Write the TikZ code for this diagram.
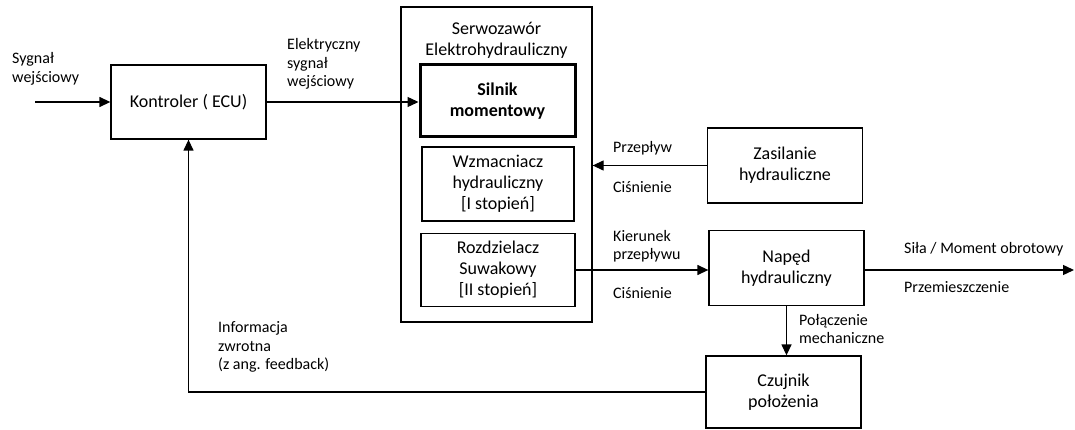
\documentclass[tikz,border=0pt]{standalone}
\usepackage{fontspec}
\setmainfont{Carlito}
\usetikzlibrary{arrows.meta}
\tikzstyle{block}=[draw, line width=1.3pt, inner sep=0, align=center, minimum width=155pt, minimum height=74pt, font=\fontsize{18}{21}\selectfont]
\tikzstyle{heavy block}=[block, line width=3pt, font=\fontsize{18}{21}\selectfont\bfseries]
\tikzstyle{caption}=[anchor=west, inner sep=0, align=left, font=\fontsize{16}{18.5}\selectfont]
\tikzstyle{signal}=[line width=1.3pt, -{Triangle[length=11pt,width=10pt]}]

\begin{document}
\begin{tikzpicture}[x=1pt, y=-1pt]
      \useasboundingbox (0, 0) rectangle (1075, 430);

      \coordinate (in) at (35, 102);
      \coordinate (out) at (1074, 270);

      \node[block] (kontroler) at (188.5, 102) {Kontroler ( ECU)};

      % serwozawor with its three stages
      \node[block, minimum width=191pt, minimum height=315pt] (serwo) at (496.5, 164.5) {};
      \node[block, draw=none] (serwo title) at (496.5, 40) {Serwozawór\\Elektrohydrauliczny};
      \node[heavy block, minimum height=72pt] (silnik) at (497.5, 101) {Silnik\\momentowy};
      \node[block, minimum width=152pt] (wzmacniacz) at (498, 184) {Wzmacniacz\\hydrauliczny\\{[I stopień]}};
      \node[block, minimum width=154pt, minimum height=73pt] (rozdzielacz) at (498, 270) {Rozdzielacz\\Suwakowy\\{[II stopień]}};

      \node[block, minimum height=75pt] (zasilanie) at (785, 165.5) {Zasilanie\\hydrauliczne};
      \node[block, minimum height=75pt] (naped) at (786.5, 268) {Napęd\\hydrauliczny};
      \node[block, minimum height=72pt] (czujnik) at (783.5, 392) {Czujnik\\położenia};

      \draw[signal] (in) to (kontroler.west);
      \draw[signal] (kontroler.east) to (silnik.west |- kontroler.east);
      \draw[signal] (zasilanie.west) to (serwo.east |- zasilanie.west);
      \draw[signal] (rozdzielacz.east) to (naped.west |- rozdzielacz.east);
      \draw[signal] (naped.east |- rozdzielacz.east) to (out);
      \draw[signal] (naped.south) to (naped.south |- czujnik.north);
      \draw[signal] (czujnik.west) -| (kontroler.south);

      % labels on the connectors
      \node[caption] (l_in) at (12, 69) {Sygnał\\wejściowy};
      \node[caption] (l_ecu) at (287, 64) {Elektryczny\\sygnał\\wejściowy};
      \node[caption] (l_flow) at (613, 148) {Przepływ};
      \node[caption] (l_press1) at (613, 187) {Ciśnienie};
      \node[caption] (l_dir) at (613, 246) {Kierunek\\przepływu};
      \node[caption] (l_press2) at (613, 293) {Ciśnienie};
      \node[caption] (l_force) at (904, 249) {Siła / Moment obrotowy};
      \node[caption] (l_disp) at (904, 287) {Przemieszczenie};
      \node[caption] (l_mech) at (799, 329) {Połączenie\\mechaniczne};
      \node[caption] (l_back) at (218, 347) {Informacja\\zwrotna\\(z ang. feedback)};
    \end{tikzpicture}
\end{document}
